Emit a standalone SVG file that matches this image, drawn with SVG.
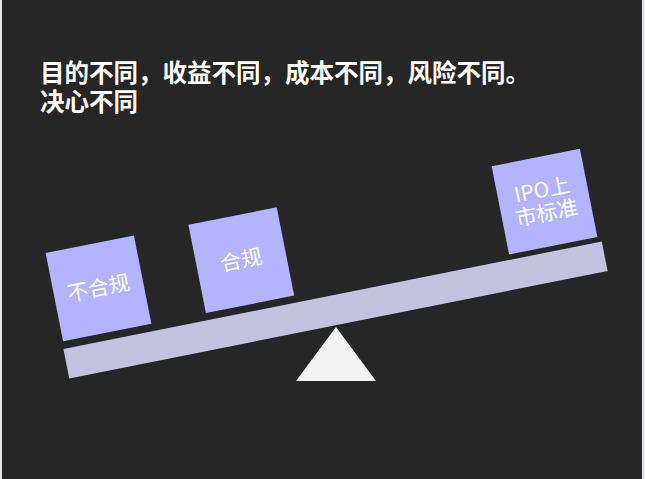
<svg xmlns="http://www.w3.org/2000/svg" width="645" height="479" viewBox="0 0 645 479">
<style>
.title{font-family:"Noto Sans CJK SC","Noto Sans",sans-serif;font-weight:bold;font-size:24.5px;fill:#ffffff}
.box{fill:#b3b3ff}
.lbl{font-family:"Noto Sans CJK SC","Noto Sans",sans-serif;font-size:21px;fill:#ffffff;text-anchor:middle}
</style>
<rect x="0" y="0" width="645" height="479" fill="#e6e6e8"/>
<rect x="2" y="0" width="640" height="479" fill="#262626"/>
<text class="title" x="40" y="82">目的不同，收益不同，成本不同，风险不同。</text>
<text class="title" x="40" y="111">决心不同</text>
<g id="connectors">
<rect x="61" y="295" width="549" height="30" fill="#c3c3e0" transform="rotate(-11.3 335.5 310)"/>
<polygon points="336,327 296,381 376,381" fill="#f2f2f2"/>
</g>
<g id="node1" transform="rotate(-11.2 98.5 288.3)">
<rect class="box" x="53.5" y="243.3" width="90" height="90"/>
<text class="lbl" x="98.5" y="295.5">不合规</text>
</g>
<g id="node2" transform="rotate(-11.2 241.3 260.2)">
<rect class="box" x="196.3" y="215.2" width="90" height="90"/>
<text class="lbl" x="241.3" y="267.5">合规</text>
</g>
<g id="node3" transform="rotate(-11.2 544.5 201.7)">
<rect class="box" x="499.5" y="156.7" width="90" height="90"/>
<text class="lbl" x="544.5" y="197">IPO上</text>
<text class="lbl" x="544.5" y="220.5">市标准</text>
</g>
</svg>
